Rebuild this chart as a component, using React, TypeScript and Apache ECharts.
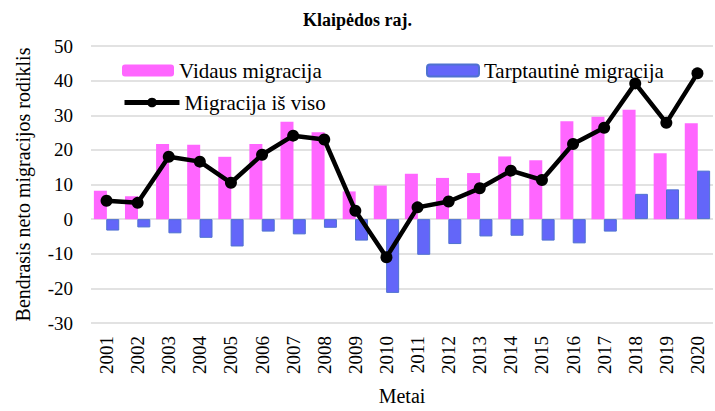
import React, { useEffect, useRef } from "react";
import * as echarts from "echarts";

const years = ["2001","2002","2003","2004","2005","2006","2007","2008","2009","2010","2011","2012","2013","2014","2015","2016","2017","2018","2019","2020"];
const vidaus = [8.2, 6.6, 21.7, 21.5, 18.0, 21.7, 28.1, 25.1, 8.0, 9.7, 13.1, 11.9, 13.3, 18.1, 17.0, 28.3, 29.6, 31.6, 19.0, 27.7];
const tarptautine = [-3.3, -2.4, -4.1, -5.4, -7.9, -3.6, -4.4, -2.5, -6.2, -21.3, -10.3, -7.2, -5.0, -4.8, -6.2, -7.0, -3.6, 7.3, 8.6, 14.0];
const isViso = [5.3, 4.7, 18.0, 16.6, 10.5, 18.6, 24.1, 23.0, 2.4, -11.0, 3.4, 5.1, 8.9, 14.0, 11.3, 21.7, 26.4, 39.2, 27.8, 42.1];

const FONT = "Liberation Serif";

export default function App() {
  const ref = useRef<HTMLDivElement>(null);
  useEffect(() => {
    document.body.style.margin = "0";
    const chart = echarts.init(ref.current!, null, { renderer: "svg" });
    const legendText = { fontFamily: FONT, fontSize: 21, color: "#000" };
    chart.setOption({
      animation: false,
      textStyle: { fontFamily: FONT, fontSize: 19, color: "#000" },
      title: {
        text: "Klaipėdos raj.",
        left: "center",
        top: 6,
        textStyle: { fontFamily: FONT, fontSize: 18, fontWeight: "bold", color: "#000" },
      },
      legend: [
        { data: ["Vidaus migracija"], left: 117, top: 55, itemWidth: 52, itemHeight: 12, itemGap: 4, textStyle: legendText },
        { data: ["Tarptautinė migracija"], left: 421, top: 55, itemWidth: 52, itemHeight: 12, textStyle: legendText },
        {
          data: ["Migracija iš viso"], left: 117, top: 87, itemWidth: 55, itemHeight: 12, textStyle: legendText,
          lineStyle: { width: 5, color: "#000" },
        },
      ],
      grid: { left: 91, right: 2, top: 46, bottom: 88, containLabel: false },
      xAxis: {
        type: "category",
        data: years,
        name: "Metai",
        nameLocation: "middle",
        nameGap: 63,
        nameTextStyle: { fontFamily: FONT, fontSize: 20, color: "#000" },
        axisLine: { show: false },
        axisTick: { show: false },
        axisLabel: { rotate: 90, fontFamily: FONT, fontSize: 19, color: "#000", margin: 13 },
      },
      yAxis: {
        type: "value",
        min: -30,
        max: 50,
        interval: 10,
        name: "Bendrasis neto migracijos rodiklis",
        nameLocation: "middle",
        nameGap: 58,
        nameTextStyle: { fontFamily: FONT, fontSize: 20, color: "#000" },
        axisLine: { show: false },
        axisTick: { show: false },
        axisLabel: { fontFamily: FONT, fontSize: 19, color: "#000", margin: 18 },
        splitLine: { lineStyle: { color: "#d9d9d9", width: 1.5 } },
      },
      series: [
        {
          name: "Vidaus migracija",
          type: "bar",
          data: vidaus,
          barWidth: 13,
          barGap: "-5%",
          itemStyle: { color: "#FF66FF" },
        },
        {
          name: "Tarptautinė migracija",
          type: "bar",
          data: tarptautine,
          barWidth: 13,
          itemStyle: { color: "#6366F9", borderColor: "#4F72D0", borderWidth: 1 },
        },
        {
          name: "Migracija iš viso",
          type: "line",
          data: isViso,
          symbol: "circle",
          symbolSize: 12,
          lineStyle: { color: "#000", width: 4.5 },
          itemStyle: { color: "#000" },
        },
      ],
    });
    return () => chart.dispose();
  }, []);
  return <div ref={ref} style={{ width: 715, height: 411 }} />;
}
